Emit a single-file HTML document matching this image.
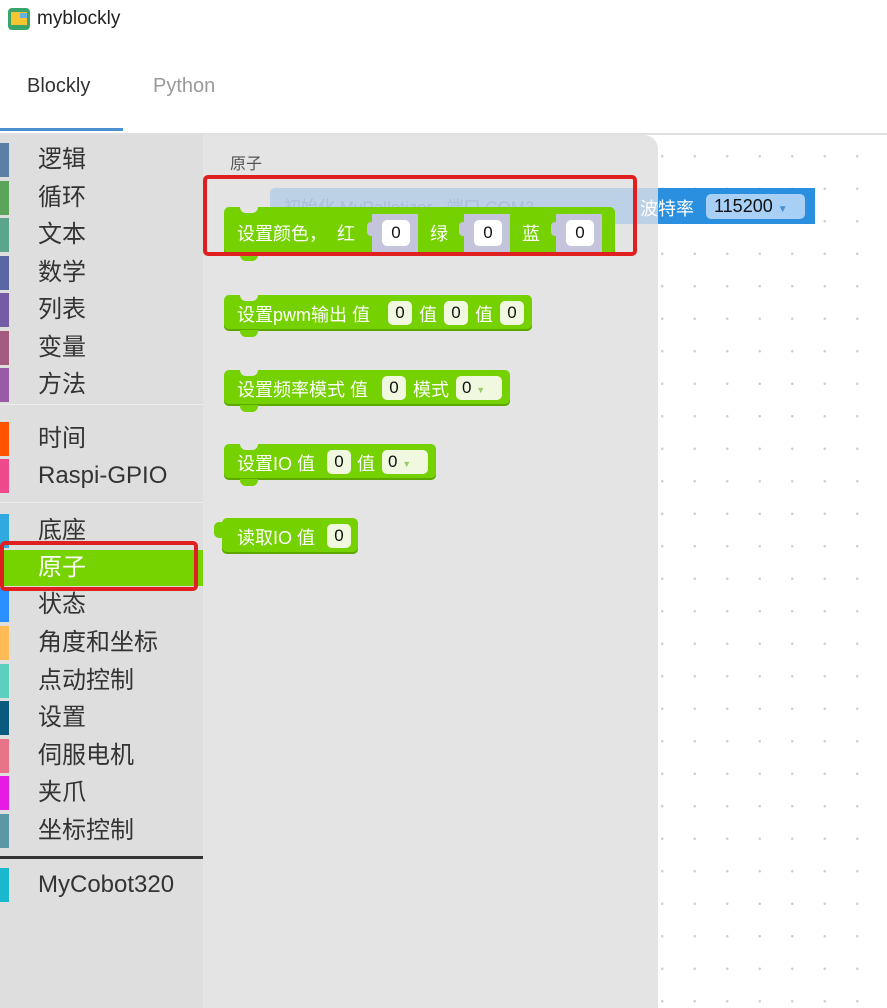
<!DOCTYPE html>
<html><head><meta charset="utf-8"><style>
*{margin:0;padding:0;box-sizing:border-box}
body{width:887px;height:1008px;overflow:hidden;background:#fff;font-family:"Liberation Sans","Noto Sans CJK SC",sans-serif;position:relative}
.a{position:absolute}
.ws{left:658px;top:135px;width:229px;height:873px;background-image:radial-gradient(circle,#cfcfcf 1.1px,transparent 1.5px);background-size:32.5px 32.5px;background-position:-12px 5px}
.side{left:0;top:135px;width:203px;height:873px;background:#dedede}
.fly{left:203px;top:135px;width:455px;height:873px;background:#e4e4e4;border-top-right-radius:14px}
.it{position:absolute;left:0;width:203px;height:36px}
.it i{position:absolute;left:0;top:1px;width:9px;height:34px}
.it span{position:absolute;left:38px;top:3px;font-size:24px;color:#333;line-height:30px}
.blk{position:absolute;background:#76d100;border-radius:5px;color:#fff;font-size:17px;white-space:nowrap;box-shadow:inset 0 -2px 0 #5da800}
.f{position:absolute;background:#f0f8e0;border-radius:5px;color:#111;font-size:17px;text-align:center;line-height:24px;height:24px}
.nb{position:absolute;width:18px;height:7px;background:#76d100;border-radius:0 0 6px 6px}
.nt{position:absolute;width:18px;height:6px;background:#e4e4e4;border-radius:0 0 6px 6px}
</style></head><body>
<div class="a" style="left:8px;top:8px;width:22px;height:22px;border-radius:4px;background:#3aa56a"></div>
<div class="a" style="left:11px;top:12px;width:16px;height:13px;background:#f6c531"></div>
<div class="a" style="left:20px;top:13px;width:7px;height:5px;background:#6ab0e0"></div>
<div class="a" style="left:37px;top:8px;font-size:19px;color:#222">myblockly</div>
<div class="a" style="left:27px;top:75px;font-size:20px;color:#333">Blockly</div>
<div class="a" style="left:153px;top:75px;font-size:20px;color:#999">Python</div>
<div class="a" style="left:0;top:128px;width:123px;height:3px;background:#4a8fd0"></div>
<div class="a" style="left:0;top:133px;width:887px;height:2px;background:#e0e0e0"></div>

<div class="a ws"></div>
<div class="a side"></div>

<div class="it" style="top:142px"><i style="background:#5b80a5"></i><span>逻辑</span></div>
<div class="it" style="top:180px"><i style="background:#5ba55b"></i><span>循环</span></div>
<div class="it" style="top:217px"><i style="background:#5ba58c"></i><span>文本</span></div>
<div class="it" style="top:255px"><i style="background:#5b67a5"></i><span>数学</span></div>
<div class="it" style="top:292px"><i style="background:#745ba5"></i><span>列表</span></div>
<div class="it" style="top:330px"><i style="background:#a55b80"></i><span>变量</span></div>
<div class="it" style="top:367px"><i style="background:#995ba5"></i><span>方法</span></div>
<div class="a" style="left:0;top:404px;width:203px;height:1px;background:#ececec"></div>
<div class="it" style="top:421px"><i style="background:#ff5500"></i><span>时间</span></div>
<div class="it" style="top:458px"><i style="background:#ee4a8b"></i><span>Raspi-GPIO</span></div>
<div class="a" style="left:0;top:502px;width:203px;height:1px;background:#ececec"></div>
<div class="it" style="top:513px"><i style="background:#2fa9e0"></i><span>底座</span></div>
<div class="it" style="top:550px;background:#76d300"><i style="background:#76d300"></i><span style="color:#fff">原子</span></div>
<div class="it" style="top:587px"><i style="background:#2b8fff"></i><span>状态</span></div>
<div class="it" style="top:625px"><i style="background:#ffbb55"></i><span>角度和坐标</span></div>
<div class="it" style="top:663px"><i style="background:#5ccfbf"></i><span>点动控制</span></div>
<div class="it" style="top:700px"><i style="background:#0a5a80"></i><span>设置</span></div>
<div class="it" style="top:738px"><i style="background:#e8748a"></i><span>伺服电机</span></div>
<div class="it" style="top:775px"><i style="background:#e61ce6"></i><span>夹爪</span></div>
<div class="it" style="top:813px"><i style="background:#5b97a5"></i><span>坐标控制</span></div>
<div class="a" style="left:0;top:856px;width:203px;height:3px;background:#333"></div>
<div class="it" style="top:867px"><i style="background:#1ab8d0"></i><span>MyCobot320</span></div>
<div class="a" style="left:0;top:541px;width:198px;height:50px;border:4px solid #e02020;border-radius:5px"></div>

<div class="a fly"></div>
<div class="a" style="left:230px;top:150px;font-size:16px;color:#555">原子</div>

<div class="a" style="left:270px;top:188px;width:388px;height:36px;background:#bcd0e6;border-radius:5px 0 0 5px"></div>
<div class="a" style="left:284px;top:193px;font-size:17px;color:#a9c0da">初始化 MyPalletizer &nbsp; 端口 COM3</div>
<div class="a" style="left:658px;top:188px;width:157px;height:36px;background:#2b8fe0"></div>
<div class="a" style="left:640px;top:195px;font-size:18px;color:#fff">波特率</div>
<div class="a" style="left:706px;top:194px;width:99px;height:25px;background:#a8cff5;border-radius:5px;font-size:18px;color:#111;line-height:25px;padding-left:8px">115200 <span style="color:#4a8fd0;font-size:10px">▼</span></div>

<div class="blk" style="left:224px;top:207px;width:391px;height:48px"></div>
<div class="nt" style="left:240px;top:207px"></div>
<div class="nb" style="left:240px;top:254px"></div>
<div class="a" style="left:237px;top:220px;font-size:18px;color:#fff">设置颜色，&nbsp; 红</div>
<div class="a" style="left:430px;top:220px;font-size:18px;color:#fff">绿</div>
<div class="a" style="left:522px;top:220px;font-size:18px;color:#fff">蓝</div>
<div class="a" style="left:372px;top:214px;width:46px;height:38px;background:#c4c4dc"></div>
<div class="a" style="left:464px;top:214px;width:46px;height:38px;background:#c4c4dc"></div>
<div class="a" style="left:556px;top:214px;width:46px;height:38px;background:#c4c4dc"></div>
<div class="a" style="left:367px;top:222px;width:8px;height:14px;background:#c4c4dc;border-radius:4px 0 0 4px"></div>
<div class="a" style="left:459px;top:222px;width:8px;height:14px;background:#c4c4dc;border-radius:4px 0 0 4px"></div>
<div class="a" style="left:551px;top:222px;width:8px;height:14px;background:#c4c4dc;border-radius:4px 0 0 4px"></div>
<div class="f" style="left:382px;top:220px;width:28px;height:26px;line-height:26px;background:#fff">0</div>
<div class="f" style="left:474px;top:220px;width:28px;height:26px;line-height:26px;background:#fff">0</div>
<div class="f" style="left:566px;top:220px;width:28px;height:26px;line-height:26px;background:#fff">0</div>
<div class="a" style="left:203px;top:175px;width:434px;height:81px;border:4px solid #e02020;border-radius:5px"></div>

<div class="blk" style="left:224px;top:295px;width:308px;height:36px"></div>
<div class="nt" style="left:240px;top:295px"></div><div class="nb" style="left:240px;top:330px"></div>
<div class="a" style="left:237px;top:301px;font-size:18px;color:#fff">设置pwm输出 值</div>
<div class="f" style="left:388px;top:301px;width:24px">0</div>
<div class="a" style="left:419px;top:301px;font-size:18px;color:#fff">值</div>
<div class="f" style="left:444px;top:301px;width:24px">0</div>
<div class="a" style="left:475px;top:301px;font-size:18px;color:#fff">值</div>
<div class="f" style="left:500px;top:301px;width:24px">0</div>

<div class="blk" style="left:224px;top:370px;width:286px;height:36px"></div>
<div class="nt" style="left:240px;top:370px"></div><div class="nb" style="left:240px;top:405px"></div>
<div class="a" style="left:237px;top:376px;font-size:18px;color:#fff">设置频率模式 值</div>
<div class="f" style="left:382px;top:376px;width:24px">0</div>
<div class="a" style="left:413px;top:376px;font-size:18px;color:#fff">模式</div>
<div class="f" style="left:456px;top:376px;width:46px;text-align:left;padding-left:6px">0 <span style="color:#9c6;font-size:9px">▼</span></div>

<div class="blk" style="left:224px;top:444px;width:212px;height:36px"></div>
<div class="nt" style="left:240px;top:444px"></div><div class="nb" style="left:240px;top:479px"></div>
<div class="a" style="left:237px;top:450px;font-size:18px;color:#fff">设置IO 值</div>
<div class="f" style="left:327px;top:450px;width:24px">0</div>
<div class="a" style="left:357px;top:450px;font-size:18px;color:#fff">值</div>
<div class="f" style="left:382px;top:450px;width:46px;text-align:left;padding-left:6px">0 <span style="color:#9c6;font-size:9px">▼</span></div>

<div class="blk" style="left:222px;top:518px;width:136px;height:36px"></div>
<div class="a" style="left:214px;top:522px;width:10px;height:16px;background:#76d100;border-radius:5px 0 0 5px"></div>
<div class="a" style="left:237px;top:524px;font-size:18px;color:#fff">读取IO 值</div>
<div class="f" style="left:327px;top:524px;width:24px">0</div>
</body></html>
